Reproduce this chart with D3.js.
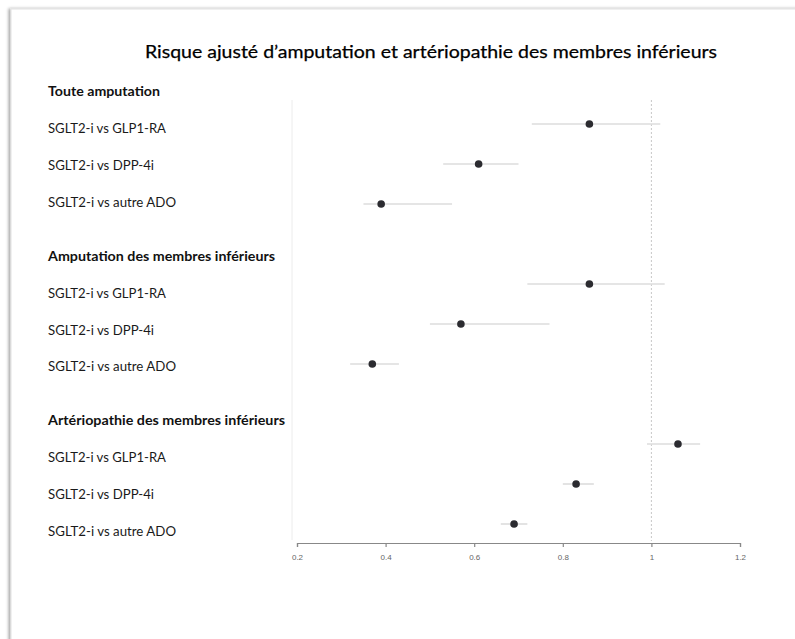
<!DOCTYPE html>
<html>
<head>
<meta charset="utf-8">
<script src="https://cdn.jsdelivr.net/npm/d3@7"></script>
<style>
  html, body { margin: 0; padding: 0; background: #fff; }
  svg { display: block; }
</style>
</head>
<body>
<svg id="chart" width="795" height="639"></svg>
<script>
// ---- data ----
const title = "Risque ajusté d\u2019amputation et artériopathie des membres inférieurs";
const groups = ["Toute amputation", "Amputation des membres inférieurs", "Artériopathie des membres inférieurs"];
const comparisons = ["SGLT2-i vs GLP1-RA", "SGLT2-i vs DPP-4i", "SGLT2-i vs autre ADO"];
const estimates = [
  [0.86, 0.61, 0.39],
  [0.86, 0.57, 0.37],
  [1.06, 0.83, 0.69]
];
const lowerCI = [
  [0.73, 0.53, 0.35],
  [0.72, 0.50, 0.32],
  [0.99, 0.80, 0.66]
];
const upperCI = [
  [1.02, 0.70, 0.55],
  [1.03, 0.77, 0.43],
  [1.11, 0.87, 0.72]
];
const tickValues = [0.2, 0.4, 0.6, 0.8, 1, 1.2];
const tickLabels = ["0.2", "0.4", "0.6", "0.8", "1", "1.2"];
const refValue = 1;

// ---- build rows ----
const rows = [];
groups.forEach((g, gi) => {
  comparisons.forEach((c, ci) => {
    rows.push({group: gi, idx: ci, label: c, est: estimates[gi][ci], lo: lowerCI[gi][ci], hi: upperCI[gi][ci]});
  });
});

const svg = d3.select("#chart");
const font = "Lato, 'Open Sans', sans-serif";

// card with shadow
const defs = svg.append("defs");
const f = defs.append("filter").attr("id", "sh").attr("x", "-5%").attr("y", "-5%").attr("width", "110%").attr("height", "110%");
f.append("feDropShadow").attr("dx", -2).attr("dy", 0).attr("stdDeviation", 1.6).attr("flood-color", "#000").attr("flood-opacity", 0.35);
svg.append("rect").attr("x", 11).attr("y", 9).attr("width", 900).attr("height", 800)
  .attr("fill", "#fff").attr("stroke", "#e2e2e2").attr("stroke-width", 1).attr("filter", "url(#sh)");

// scales
const x = d3.scaleLinear().domain([0.2, 1.2]).range([297, 740]);
const ySlot = d3.scaleLinear().domain([0, 10]).range([124, 524]);          // point rows
const yGroup = d3.scaleLinear().domain([0, 2]).range([92, 421]);           // label group headers
const labelStep = 36.8;

// title
svg.append("text")
  .attr("x", 431).attr("y", 52).attr("dy", "0.35em")
  .attr("text-anchor", "middle")
  .attr("font-family", font).attr("font-size", 17.5).attr("fill", "#000")
  .attr("stroke", "#000").attr("stroke-width", 0.25)
  .attr("textLength", 572).attr("lengthAdjust", "spacingAndGlyphs")
  .text(title);

// group headings
const headWidths = [112, 227, 237];
svg.append("g").selectAll("text").data(groups).join("text")
  .attr("x", 48).attr("y", (d, i) => yGroup(i)).attr("dy", "0.35em")
  .attr("font-family", font).attr("font-size", 12.5).attr("font-weight", 700).attr("fill", "#111")
  .attr("textLength", (d, i) => headWidths[i]).attr("lengthAdjust", "spacingAndGlyphs")
  .text(d => d);

// row labels
const labelWidths = [118, 106, 128];
svg.append("g").selectAll("text").data(rows).join("text")
  .attr("x", 48).attr("y", d => yGroup(d.group) + labelStep * (d.idx + 1)).attr("dy", "0.35em")
  .attr("font-family", font).attr("font-size", 13).attr("fill", "#1a1a1a")
  .attr("textLength", d => labelWidths[d.idx]).attr("lengthAdjust", "spacingAndGlyphs")
  .text(d => d.label);

// faint left border of the plot
svg.append("line").attr("x1", 292).attr("x2", 292).attr("y1", 100).attr("y2", 540)
  .attr("stroke", "#ececec").attr("stroke-width", 1);

// reference dashed line
svg.append("line").attr("x1", x(refValue)).attr("x2", x(refValue)).attr("y1", 100).attr("y2", 541)
  .attr("stroke", "#c8c8c8").attr("stroke-width", 1).attr("stroke-dasharray", "2,2");

const slotOf = d => d.group * 4 + d.idx;

// CI lines
svg.append("g").selectAll("line").data(rows).join("line")
  .attr("x1", d => x(d.lo)).attr("x2", d => x(d.hi))
  .attr("y1", d => ySlot(slotOf(d))).attr("y2", d => ySlot(slotOf(d)))
  .attr("stroke", "#dcdcdc").attr("stroke-width", 1.6);

// points
svg.append("g").selectAll("circle").data(rows).join("circle")
  .attr("cx", d => x(d.est)).attr("cy", d => ySlot(slotOf(d))).attr("r", 3.8)
  .attr("fill", "#2b2b30");

// axis
const axis = d3.axisBottom(x).tickValues(tickValues).tickFormat((d, i) => tickLabels[i]).tickSize(4).tickSizeOuter(4);
const ax = svg.append("g").attr("transform", "translate(0,543)").call(axis);
ax.select(".domain").attr("stroke", "#888").attr("stroke-width", 1.2);
ax.selectAll(".tick line").attr("stroke", "#888").attr("stroke-width", 1.2);
ax.selectAll(".tick text").attr("font-family", "'Liberation Sans', Arial, sans-serif").attr("font-size", 8).attr("fill", "#666").attr("dy", "1.2em");
</script>
</body>
</html>
